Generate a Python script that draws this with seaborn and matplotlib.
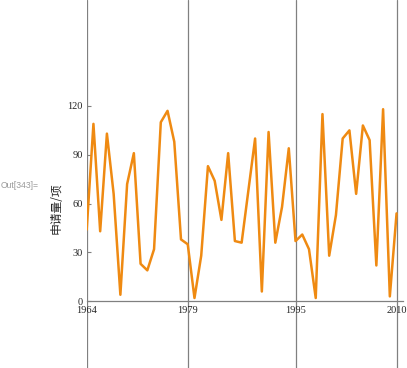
import matplotlib
matplotlib.use("Agg")
import matplotlib.pyplot as plt
import seaborn as sns
import pandas as pd

years = list(range(1964, 2011))
counts = [44, 109, 43, 103, 66, 4, 72, 91, 23, 19, 32, 110, 117, 98, 38, 35,
          2, 28, 83, 74, 50, 91, 37, 36, 68, 100, 6, 104, 36, 58, 94, 37,
          41, 32, 2, 115, 28, 53, 100, 105, 66, 108, 99, 22, 118, 3, 54]
xticks = [1964, 1979, 1995, 2010]
yticks = [0, 30, 60, 90, 120]
ylabel = "申请量/项"

df = pd.DataFrame({"year": years, "count": counts})

sns.set_theme(style="white")
plt.rcParams['font.family'] = ['Liberation Serif', 'DejaVu Sans']

W, H = 407, 368
fig = plt.figure(figsize=(W / 100, H / 100), dpi=100)
x0 = 86.7 / W
x1 = 403.3 / W
ax = fig.add_axes([x0, 0, x1 - x0, 1])

sns.lineplot(data=df, x="year", y="count", ax=ax, color="#EF8A12", linewidth=1.8)

ax.set_xlim(1964, 2011)
ax.set_ylim(-41, 185.1)
for s in ["top", "right", "left"]:
    ax.spines[s].set_visible(False)
ax.spines["bottom"].set_position(("data", 0))
ax.spines["bottom"].set_color("#808080")
ax.spines["bottom"].set_linewidth(0.9)

for xv in xticks:
    ax.axvline(xv, color="#808080", linewidth=0.9, zorder=0)

ax.set_xticks(xticks)
ax.set_xticklabels([str(v) for v in xticks], fontsize=7.5)
ax.set_yticks(yticks)
ax.set_yticklabels([str(v) for v in yticks], fontsize=7.5)
ax.tick_params(axis="y", direction="in", length=3, width=0.8, color="#808080", pad=3, left=True)
ax.tick_params(axis="x", direction="in", length=0, pad=3.5)
ax.set_xlabel("")
ax.set_ylabel("")
ax.patch.set_alpha(0)

fig.text(56 / W, 1 - 208 / H, ylabel, rotation=90, ha="center", va="center",
         fontsize=8.5, family=["Noto Sans CJK SC", "DejaVu Sans"])
fig.text(0.5 / W, 1 - 186 / H, "Out[343]=", ha="left", va="center",
         fontsize=6.2, color="#9a9a9a", family=["Liberation Sans", "DejaVu Sans"])

fig.savefig("out.png", dpi=100)
